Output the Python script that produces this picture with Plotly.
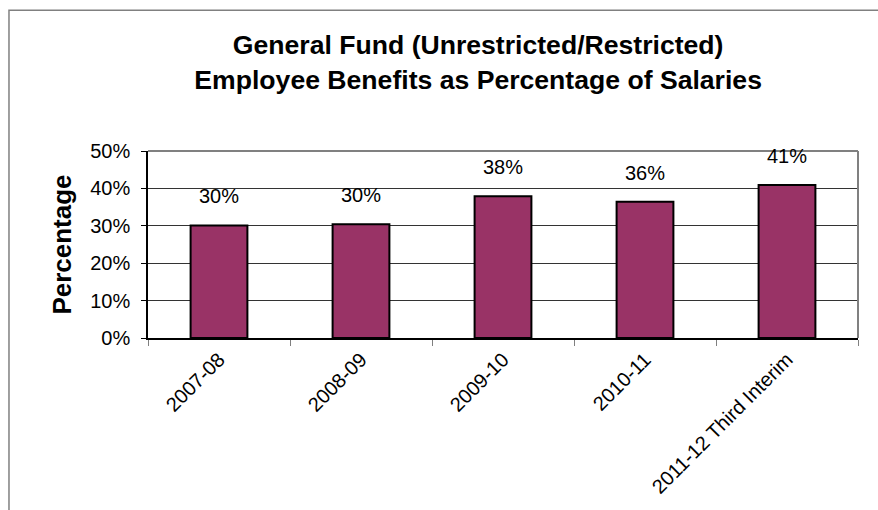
import plotly.graph_objects as go

# Fiscal years and benefit ratios (benefits / salaries)
years = ["2007-08", "2008-09", "2009-10", "2010-11", "2011-12 Third Interim"]
benefit_ratio = [0.301, 0.304, 0.379, 0.364, 0.409]
y_ticks = [0, 0.1, 0.2, 0.3, 0.4, 0.5]

FONT = "Liberation Sans, Arial, sans-serif"
BAR_COLOR = "#993366"

fig = go.Figure()
fig.add_trace(go.Bar(
    x=years,
    y=benefit_ratio,
    marker=dict(color=BAR_COLOR, line=dict(color="#000000", width=2)),
    hoverinfo="skip",
))

# Value labels floating above each bar
for yr, v in zip(years, benefit_ratio):
    fig.add_annotation(
        x=yr, y=v, xref="x", yref="y",
        text=f"{v:.0%}", showarrow=False,
        yshift=29, yanchor="middle",
        font=dict(family=FONT, size=20, color="#000000"),
    )

# Outer chart frame
fig.add_shape(type="rect", xref="paper", yref="paper",
              x0=-0.1958, x1=1.2, y0=-1.2, y1=1.7526,
              line=dict(color="#808080", width=1.5), layer="below")
# Plot-area top and right edges
fig.add_shape(type="line", xref="paper", yref="paper", x0=0, x1=1, y0=1, y1=1,
              line=dict(color="#808080", width=2))
fig.add_shape(type="line", xref="paper", yref="paper", x0=1, x1=1, y0=0, y1=1,
              line=dict(color="#808080", width=2))

fig.update_layout(
    width=878, height=510,
    margin=dict(l=148, r=20, t=151, b=169),
    paper_bgcolor="#ffffff", plot_bgcolor="#ffffff",
    bargap=0.6,
    showlegend=False,
    font=dict(family=FONT, size=20, color="#000000"),
    title=dict(
        text="<b>General Fund (Unrestricted/Restricted)<br>Employee Benefits as Percentage of Salaries</b>",
        font=dict(family=FONT, size=26.6, color="#000000"),
        x=0.465, xref="paper", xanchor="center",
        y=1 - 54 / 510, yref="container", yanchor="top",
        automargin=False,
    ),
    xaxis=dict(
        type="category",
        tickangle=-45,
        tickson="boundaries",
        ticks="outside", ticklen=6, tickcolor="#808080",
        showline=True, linecolor="#000000", linewidth=2,
        showgrid=False,
        tickfont=dict(family=FONT, size=20),
        fixedrange=True,
    ),
    yaxis=dict(
        range=[0, 0.5],
        tickvals=y_ticks,
        tickformat=".0%",
        ticks="outside", ticklen=5, tickcolor="#000000",
        ticklabelstandoff=7,
        showline=True, linecolor="#000000", linewidth=1.5,
        showgrid=True, gridcolor="#333333", gridwidth=1,
        zeroline=False,
        tickfont=dict(family=FONT, size=20),
        title=dict(text="<b>Percentage</b>", font=dict(family=FONT, size=26), standoff=11),
        automargin=False,
        fixedrange=True,
    ),
)

fig.write_html("out.html")
